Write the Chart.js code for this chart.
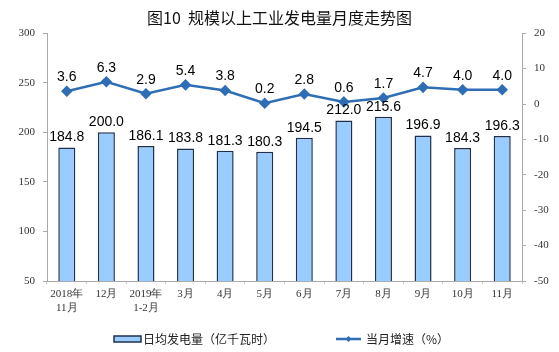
<!DOCTYPE html>
<html>
<head>
<meta charset="utf-8">
<script src="https://cdn.jsdelivr.net/npm/chart.js@4.4.1/dist/chart.umd.min.js"></script>
<style>
  html, body { margin: 0; padding: 0; background: #fff; }
  #wrap { width: 559px; height: 352px; }
</style>
</head>
<body>
<div id="wrap"><canvas id="powerChart" width="559" height="352"></canvas></div>
<script>
// data
const months = [['2018年', '11月'], '12月', ['2019年', '1-2月'], '3月', '4月', '5月', '6月', '7月', '8月', '9月', '10月', '11月'];
const dailyOutput = [184.8, 200.0, 186.1, 183.8, 181.3, 180.3, 194.5, 212.0, 215.6, 196.9, 184.3, 196.3];
const monthlyGrowth = [3.6, 6.3, 2.9, 5.4, 3.8, 0.2, 2.8, 0.6, 1.7, 4.7, 4.0, 4.0];
const leftTicks = [50, 100, 150, 200, 250, 300];
const rightTicks = [-50, -40, -30, -20, -10, 0, 10, 20];

const BAR_FILL = '#99ccff';
const BAR_EDGE = '#1f2f4d';
const LINE_BLUE = '#2f6db5';
const CJK = '"Noto Sans CJK SC", "Noto Sans", sans-serif';
const SERIF = '"Liberation Serif", "DejaVu Serif", serif';

// value labels above bars and points
const valueLabels = {
  id: 'valueLabels',
  afterDatasetsDraw(chart) {
    const ctx = chart.ctx;
    ctx.save();
    ctx.font = '14px "Liberation Sans", Arial, sans-serif';
    ctx.fillStyle = '#000';
    ctx.textAlign = 'center';
    ctx.textBaseline = 'bottom';
    chart.data.datasets.forEach((ds, i) => {
      const meta = chart.getDatasetMeta(i);
      meta.data.forEach((el, j) => {
        const gap = ds.type === 'line' ? 7 : 3;
        ctx.fillText(ds.data[j].toFixed(1), el.x, el.y - gap);
      });
    });
    ctx.restore();
  }
};

// bottom legend, drawn by hand so the two items sit apart like the original
const bottomLegend = {
  id: 'bottomLegend',
  afterDraw(chart) {
    const ctx = chart.ctx;
    const y = 339;
    ctx.save();
    ctx.fillStyle = BAR_FILL;
    ctx.strokeStyle = BAR_EDGE;
    ctx.lineWidth = 1.5;
    ctx.fillRect(114, y - 3, 27, 6);
    ctx.strokeRect(114, y - 3, 27, 6);

    ctx.strokeStyle = LINE_BLUE;
    ctx.lineWidth = 2.5;
    ctx.beginPath();
    ctx.moveTo(336, y);
    ctx.lineTo(361, y);
    ctx.stroke();
    ctx.fillStyle = LINE_BLUE;
    ctx.beginPath();
    ctx.moveTo(348.5, y - 3);
    ctx.lineTo(351.5, y);
    ctx.lineTo(348.5, y + 3);
    ctx.lineTo(345.5, y);
    ctx.closePath();
    ctx.fill();

    ctx.font = '12px ' + CJK;
    ctx.fillStyle = '#222';
    ctx.textBaseline = 'middle';
    ctx.textAlign = 'left';
    ctx.fillText('日均发电量（亿千瓦时）', 143, y);
    ctx.fillText('当月增速（%）', 366, y);
    ctx.restore();
  }
};

new Chart(document.getElementById('powerChart'), {
  data: {
    labels: months,
    datasets: [
      {
        type: 'line',
        label: '当月增速（%）',
        data: monthlyGrowth,
        yAxisID: 'y1',
        borderColor: LINE_BLUE,
        backgroundColor: LINE_BLUE,
        borderWidth: 2.5,
        pointStyle: 'rectRot',
        pointRadius: 4,
        tension: 0,
        order: 0
      },
      {
        type: 'bar',
        label: '日均发电量（亿千瓦时）',
        data: dailyOutput,
        yAxisID: 'y',
        backgroundColor: BAR_FILL,
        borderColor: BAR_EDGE,
        borderWidth: 1.5,
        categoryPercentage: 1,
        barPercentage: 0.43,
        order: 1
      }
    ]
  },
  options: {
    responsive: false,
    animation: false,
    layout: { padding: { left: 0, right: 0, top: 0, bottom: 31 } },
    plugins: {
      legend: { display: false },
      tooltip: { enabled: false },
      title: {
        display: true,
        text: '图10  规模以上工业发电量月度走势图',
        color: '#111',
        font: { family: CJK, size: 16, weight: 'normal' },
        padding: { top: 8, bottom: 6 }
      }
    },
    scales: {
      x: {
        offset: true,
        grid: { display: true, drawOnChartArea: false, offset: true, tickLength: 3, color: '#ccc' },
        border: { color: '#aaa' },
        ticks: { color: '#333', font: { family: SERIF, size: 11 }, maxRotation: 0, padding: 4 },
        afterFit(scale) { scale.height = 40; }
      },
      y: {
        position: 'left',
        min: leftTicks[0],
        max: leftTicks[leftTicks.length - 1],
        afterBuildTicks(scale) { scale.ticks = leftTicks.map(v => ({ value: v })); },
        grid: { drawOnChartArea: false, tickLength: 4, color: '#aaa' },
        border: { color: '#aaa' },
        ticks: { color: '#333', font: { family: SERIF, size: 11 }, padding: 8 },
        afterFit(scale) { scale.width = 47; }
      },
      y1: {
        position: 'right',
        min: rightTicks[0],
        max: rightTicks[rightTicks.length - 1],
        afterBuildTicks(scale) { scale.ticks = rightTicks.map(v => ({ value: v })); },
        grid: { drawOnChartArea: false, tickLength: 4, color: '#aaa' },
        border: { color: '#aaa' },
        ticks: { color: '#333', font: { family: SERIF, size: 11 }, padding: 8 },
        afterFit(scale) { scale.width = 37; }
      }
    }
  },
  plugins: [valueLabels, bottomLegend]
});
</script>
</body>
</html>
